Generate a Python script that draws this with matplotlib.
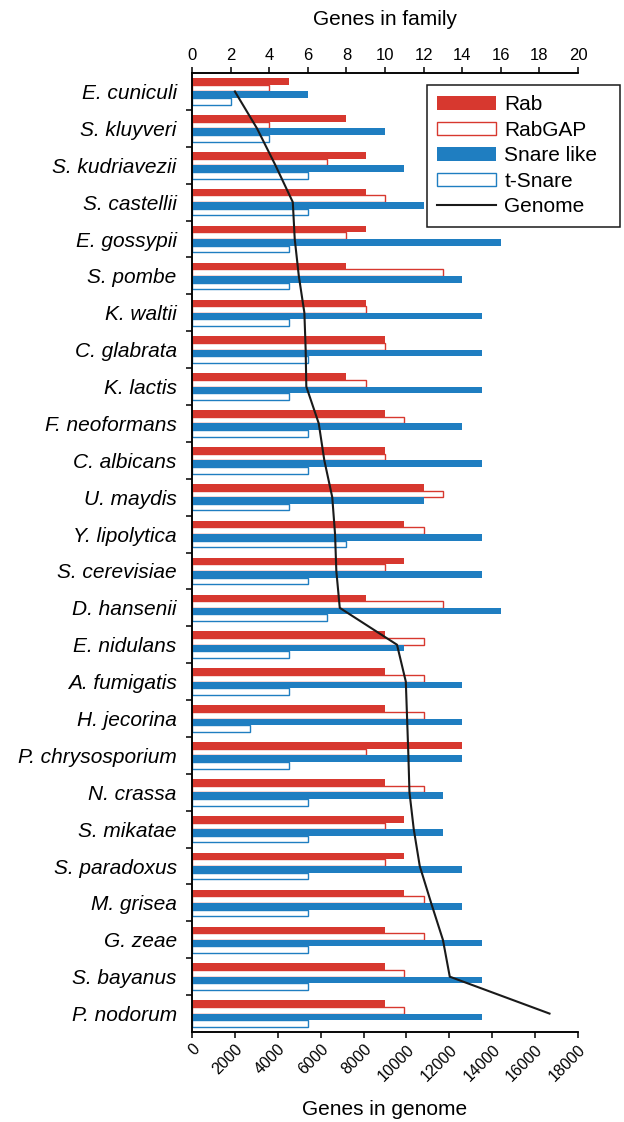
import matplotlib
matplotlib.use("Agg")
import matplotlib.pyplot as plt
from matplotlib.patches import Patch
from matplotlib.lines import Line2D

plt.rcParams['font.family'] = ['Liberation Sans', 'DejaVu Sans']

species = ['E. cuniculi', 'S. kluyveri', 'S. kudriavezii', 'S. castellii',
           'E. gossypii', 'S. pombe', 'K. waltii', 'C. glabrata', 'K. lactis',
           'F. neoformans', 'C. albicans', 'U. maydis', 'Y. lipolytica',
           'S. cerevisiae', 'D. hansenii', 'E. nidulans', 'A. fumigatis',
           'H. jecorina', 'P. chrysosporium', 'N. crassa', 'S. mikatae',
           'S. paradoxus', 'M. grisea', 'G. zeae', 'S. bayanus', 'P. nodorum']

rab = [5, 8, 9, 9, 9, 8, 9, 10, 8, 10, 10, 12, 11,
       11, 9, 10, 10, 10, 14, 10, 11, 11, 11, 10, 10, 10]
rabgap = [4, 4, 7, 10, 8, 13, 9, 10, 9, 11, 10, 13, 12,
          10, 13, 12, 12, 12, 9, 12, 10, 10, 12, 12, 11, 11]
snare_like = [6, 10, 11, 12, 16, 14, 15, 15, 15, 14, 15, 12, 15,
              15, 16, 11, 14, 14, 14, 13, 13, 14, 14, 15, 15, 15]
t_snare = [2, 4, 6, 6, 5, 5, 5, 6, 5, 6, 6, 5, 8,
           6, 7, 5, 5, 3, 5, 6, 6, 6, 6, 6, 6, 6]
genome = [2000, 3030, 3890, 4700, 4790, 4980, 5240, 5300, 5330, 5910,
          6170, 6540, 6670, 6730, 6890, 9560, 9970, 10030, 10090, 10140,
          10340, 10620, 11150, 11700, 12020, 16670]

red = '#d7382f'
blue = '#1f7ec1'
fs = 15

fig = plt.figure(figsize=(6.24, 11.22), dpi=100)
ax = fig.add_axes([0.3077, 0.0802, 0.6186, 0.8547])
# genome size goes on a twin axis at the bottom, drawn over the bars
ax2 = ax.twiny()

pos = list(range(len(species)))
h = 0.18
ax.barh([p - 1.5 * h for p in pos], rab, height=h, color=red, linewidth=0)
ax.barh([p - 0.5 * h for p in pos], rabgap, height=h, facecolor='white',
        edgecolor=red, linewidth=1.0)
ax.barh([p + 0.5 * h for p in pos], snare_like, height=h, color=blue, linewidth=0)
ax.barh([p + 1.5 * h for p in pos], t_snare, height=h, facecolor='white',
        edgecolor=blue, linewidth=1.0)

ax.set_xlim(0, 20)
ax.set_ylim(len(species) - 0.5, -0.5)
ax.xaxis.set_ticks_position('top')
ax.xaxis.set_label_position('top')
ax.set_xticks(range(0, 21, 2))
ax.set_xlabel('Genes in family', fontsize=fs, labelpad=17)
ax.tick_params(axis='x', labelsize=12, length=4, width=1.1, pad=3)

ax.set_yticks(pos)
ax.set_yticklabels(species, fontsize=fs, style='italic')
ax.set_yticks([p + 0.5 for p in pos[:-1]], minor=True)
ax.tick_params(axis='y', which='major', length=0, pad=11)
ax.tick_params(axis='y', which='minor', length=4, width=1.1)

ax2.plot(genome, pos, color='#1a1a1a', linewidth=1.5)
ax2.set_xlim(0, 18000)
ax2.xaxis.set_ticks_position('bottom')
ax2.xaxis.set_label_position('bottom')
ax2.set_xticks(range(0, 18001, 2000))
ax2.tick_params(axis='x', labelsize=11.5, length=4, width=1.1, pad=3)
for lab in ax2.get_xticklabels():
    lab.set_rotation(45)
    lab.set_ha('right')
    lab.set_va('top')
    lab.set_rotation_mode('anchor')
ax2.set_xlabel('Genes in genome', fontsize=fs, labelpad=12)

for a in (ax, ax2):
    a.spines['right'].set_visible(False)
    for s in ('top', 'bottom', 'left'):
        a.spines[s].set_linewidth(1.1)

handles = [Patch(facecolor=red, edgecolor=red, linewidth=0),
           Patch(facecolor='white', edgecolor=red, linewidth=1.0),
           Patch(facecolor=blue, edgecolor=blue, linewidth=0),
           Patch(facecolor='white', edgecolor=blue, linewidth=1.0),
           Line2D([], [], color='#1a1a1a', linewidth=1.5)]
labels = ['Rab', 'RabGAP', 'Snare like', 't-Snare', 'Genome']
leg = ax2.legend(handles, labels, loc='upper left', mode='expand',
                 bbox_to_anchor=(0.609, 0.9875, 0.5, 0.0),
                 fontsize=fs, frameon=True, fancybox=False, framealpha=1,
                 edgecolor='#1a1a1a', handlelength=2.8, handleheight=0.63,
                 handletextpad=0.4, labelspacing=0.31, borderpad=0.5,
                 borderaxespad=0)
leg.get_frame().set_linewidth(1.1)

fig.savefig('out.png', dpi=100)
